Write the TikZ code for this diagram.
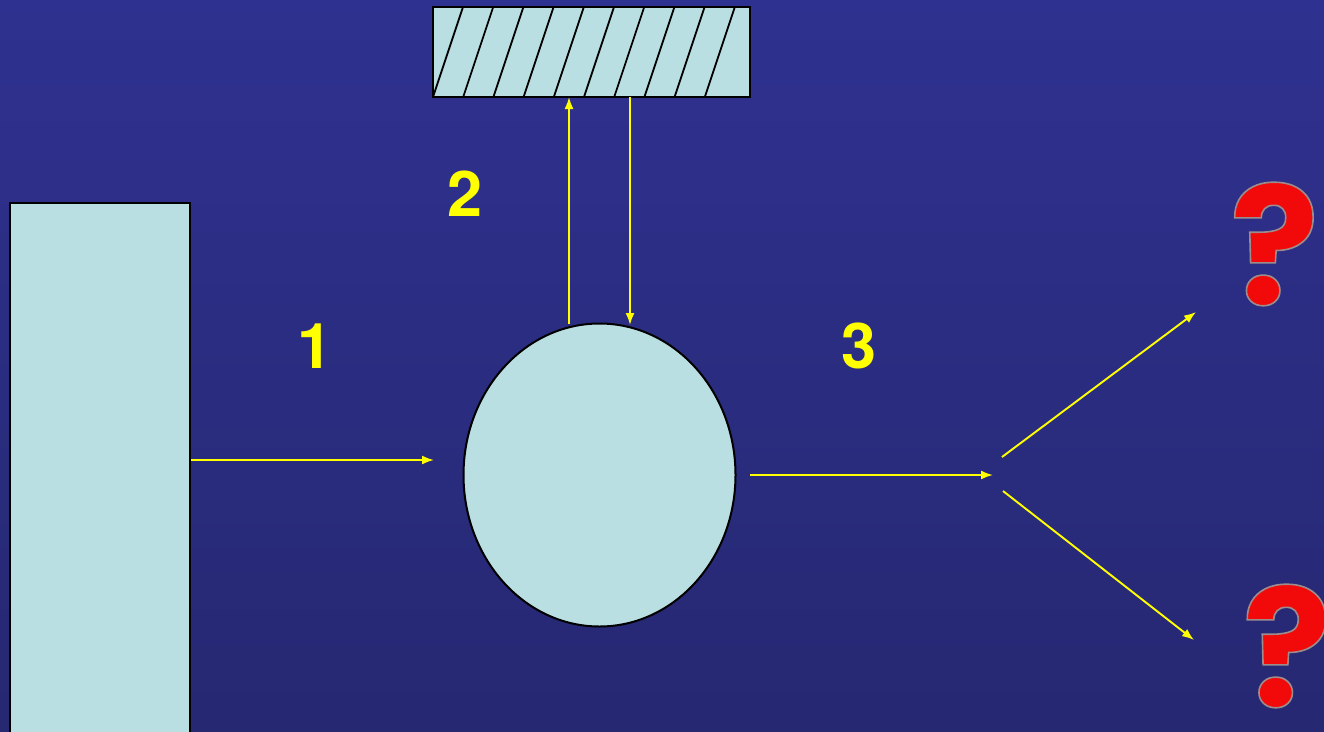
\documentclass[tikz,border=0pt]{standalone}
\usepackage{fontspec}
\setmainfont{TeX Gyre Heros}
\newfontfamily\qfont{Poppins}
\usetikzlibrary{arrows.meta,shapes.geometric}
\definecolor{pale}{HTML}{B9DFE2}
\definecolor{bgtop}{HTML}{2F3190}
\definecolor{bgbot}{HTML}{262872}
\definecolor{yel}{HTML}{FFFF00}
\definecolor{qred}{HTML}{F00A0A}
\newcommand{\qmark}{\special{pdf:code q 2 Tr 1.6 w 0.62 0.55 0.55 RG 0.95 0.04 0.04 rg}?\special{pdf:code 0 Tr Q}}
\tikzset{
  x=1pt,y=-1pt,
  paleshape/.style={draw=black,line width=2pt,fill=pale,inner sep=0pt,outer sep=0pt},
  flow/.style={draw=yel,line width=1.9pt,-{Latex[length=12pt,width=9pt]}},
  hatchline/.style={draw=black,line width=1.8pt},
  numlabel/.style={text=yel,font=\fontsize{63}{63}\selectfont\bfseries,inner sep=0pt},
  qlabel/.style={text=qred,font=\qfont\fontsize{165}{165}\selectfont\bfseries,inner sep=0pt}
}
\begin{document}
\begin{tikzpicture}
\useasboundingbox (0,0) rectangle (1324,731);
\shade[top color=bgtop,bottom color=bgbot] (0,0) rectangle (1324,731);
% source block, running off the bottom edge
\begin{scope}
\clip (0,0) rectangle (1324,731);
\draw[paleshape] (10,203) rectangle (190,740);
\end{scope}
% hatched block
\node[paleshape,rectangle,minimum width=317pt,minimum height=90pt] (wall) at (591.5,52) {};
\foreach \k in {0,...,9}{
  \draw[hatchline] ({433+30.2*\k},97) -- ({463+30.2*\k},7);
}
% circle
\node[paleshape,ellipse,minimum width=272pt,minimum height=303pt] (cell) at (599.5,475) {};
% connector ends
\coordinate (srcout) at (191,460);
\coordinate (cellin) at (434,460);
\coordinate (upfrom) at (569,324);
\coordinate (upto) at (569,97);
\coordinate (downfrom) at (630,97);
\coordinate (downto) at (630,325);
\coordinate (outfrom) at (750,475);
\coordinate (outto) at (993,475);
\coordinate (afrom) at (1002,457);
\coordinate (ato) at (1196,312);
\coordinate (bfrom) at (1003,491);
\coordinate (bto) at (1194,640);
\draw[flow] (srcout) -- (cellin);
\draw[flow] (upfrom) -- (upto);
\draw[flow] (downfrom) -- (downto);
\draw[flow] (outfrom) -- (outto);
\draw[flow] (afrom) -- (ato);
\draw[flow] (bfrom) -- (bto);
% labels
\node[numlabel] (n1) at (315,346) {1};
\node[numlabel] (n2) at (465,194) {2};
\node[numlabel] (n3) at (859,346) {3};
\node[qlabel] (q1) at (1274.5,244) {\qmark};
\node[qlabel] (q2) at (1287,646) {\qmark};
\end{tikzpicture}
\end{document}
